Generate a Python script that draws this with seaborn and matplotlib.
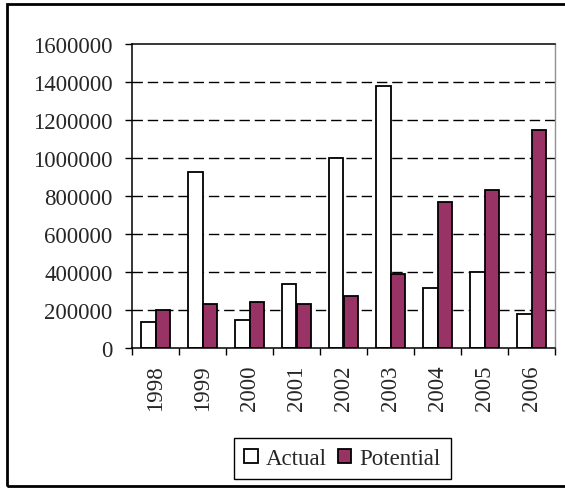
import matplotlib
matplotlib.use("Agg")
import matplotlib.pyplot as plt
import matplotlib.patches as mpatches
from matplotlib.ticker import FixedLocator, FuncFormatter
import pandas as pd
import seaborn as sns

# Data
years = ["1998", "1999", "2000", "2001", "2002", "2003", "2004", "2005", "2006"]
actual = [137000, 925000, 150000, 337000, 1000000, 1380000, 318000, 400000, 179000]
potential = [200000, 230000, 242000, 230000, 275000, 390000, 768000, 832000, 1147000]
series_names = ["Actual", "Potential"]
y_ticks = [0, 200000, 400000, 600000, 800000, 1000000, 1200000, 1400000, 1600000]

df = pd.DataFrame({
    "Year": years * 2,
    "Value": actual + potential,
    "Series": [series_names[0]] * len(years) + [series_names[1]] * len(years),
})

sns.set_theme(style="white")
plt.rcParams["font.family"] = ["Liberation Serif", "DejaVu Serif"]

colors = {"Actual": "#ffffff", "Potential": "#993366"}
font_size = 16.5

fig = plt.figure(figsize=(5.65, 4.89), dpi=100)
ax = fig.add_axes([132 / 565, 1 - 349 / 489, (555 - 132) / 565, (349 - 45) / 489])

sns.barplot(data=df, x="Year", y="Value", hue="Series", palette=colors,
            width=0.6, edgecolor="black", linewidth=1.3, saturation=1,
            legend=False, ax=ax)

ax.set_xlim(-0.5, len(years) - 0.5)
ax.set_ylim(0, 1600000)
ax.set_xlabel("")
ax.set_ylabel("")

# dashed horizontal gridlines
for v in y_ticks[1:-1]:
    ax.axhline(v, color="black", lw=1.0, ls=(0, (7.5, 3.5)), zorder=0.5)

ax.yaxis.set_major_locator(FixedLocator(y_ticks))
ax.yaxis.set_major_formatter(FuncFormatter(lambda v, p: f"{int(v)}"))
ax.tick_params(axis="y", which="major", direction="out", length=5, width=1,
               color="black", labelsize=font_size, pad=9, left=True)

# category labels rotated, tick marks on category boundaries
ax.set_xticks(range(len(years)))
ax.set_xticklabels(years, rotation=90)
ax.tick_params(axis="x", which="major", length=0, labelsize=font_size, pad=12)
ax.set_xticks([i - 0.5 for i in range(len(years) + 1)], minor=True)
ax.tick_params(axis="x", which="minor", direction="out", length=5, width=1,
               color="black", bottom=True)

for side in ["left", "bottom", "top"]:
    ax.spines[side].set_visible(True)
    ax.spines[side].set_color("black")
    ax.spines[side].set_linewidth(1.1)
ax.spines["right"].set_visible(True)
ax.spines["right"].set_color("#909090")
ax.spines["right"].set_linewidth(1.0)

# legend
handles = [mpatches.Patch(facecolor=colors[s], edgecolor="black", linewidth=1.3, label=s)
           for s in series_names]
leg = fig.legend(handles=handles, loc="center", ncol=2,
                 bbox_to_anchor=(342.5 / 565, 1 - 459.5 / 489),
                 bbox_transform=fig.transFigure, fontsize=font_size,
                 frameon=True, fancybox=False, shadow=False, framealpha=1,
                 edgecolor="black", handlelength=0.6, handleheight=0.6,
                 handletextpad=0.35, columnspacing=0.45, borderpad=0.45,
                 borderaxespad=0)
leg.get_frame().set_linewidth(1.0)

# outer chart border
fig.patches.append(mpatches.Rectangle((7 / 565, 1 - 487 / 489), 1.2, (487 - 5) / 489,
                                      transform=fig.transFigure, fill=False,
                                      edgecolor="black", linewidth=2.0))

fig.savefig("out.png", dpi=100)
